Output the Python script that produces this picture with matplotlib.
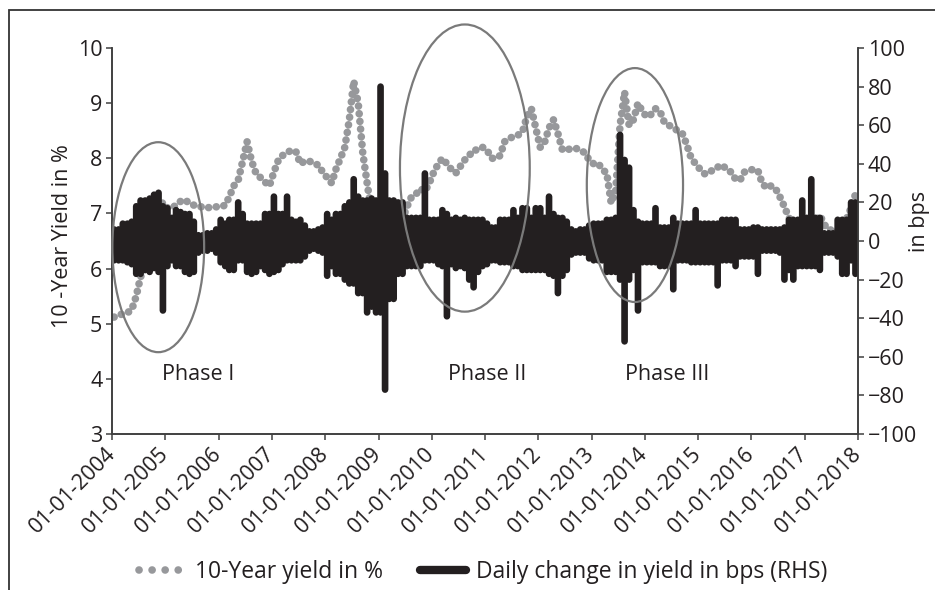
import numpy as np
import pandas as pd
import matplotlib
matplotlib.use("Agg")
import matplotlib.pyplot as plt
from matplotlib.patches import Ellipse, Rectangle
from matplotlib.lines import Line2D

plt.rcParams['font.family'] = ['Open Sans', 'DejaVu Sans']

# 10-year yield in %, one value per month (mid-month), Jan 2004 .. Dec 2017
yield_pct = [
    5.12, 5.15, 5.18, 5.2, 5.25, 5.5, 5.85, 6.0, 6.4, 6.8, 7.1, 7.2,      # 2004
    7.1, 7.1, 7.15, 7.22, 7.25, 7.18, 7.15, 7.12, 7.12, 7.1, 7.12, 7.12,  # 2005
    7.12, 7.15, 7.3, 7.5, 7.6, 7.95, 8.3, 7.95, 7.72, 7.65, 7.57, 7.5,    # 2006
    7.75, 7.97, 8.05, 8.1, 8.15, 8.12, 7.9, 7.95, 7.95, 7.9, 7.88, 7.75,  # 2007
    7.65, 7.55, 7.8, 8.0, 8.2, 8.7, 9.4, 9.0, 8.1, 7.55, 7.0, 5.9,        # 2008
    5.5, 6.0, 6.5, 6.3, 6.5, 6.9, 7.12, 7.3, 7.35, 7.45, 7.4, 7.55,       # 2009
    7.75, 7.9, 8.0, 7.9, 7.8, 7.73, 7.85, 7.97, 8.05, 8.15, 8.15, 8.2,    # 2010
    8.15, 8.0, 8.0, 8.05, 8.3, 8.35, 8.4, 8.42, 8.48, 8.75, 8.9, 8.55,    # 2011
    8.2, 8.3, 8.55, 8.7, 8.45, 8.15, 8.15, 8.18, 8.18, 8.15, 8.1, 7.97,   # 2012
    7.9, 7.91, 7.8, 7.73, 7.19, 7.4, 8.6, 9.2, 8.6, 8.7, 9.0, 8.85,       # 2013
    8.75, 8.8, 8.9, 8.85, 8.65, 8.6, 8.55, 8.5, 8.45, 8.25, 8.0, 7.9,     # 2014
    7.8, 7.72, 7.73, 7.8, 7.84, 7.88, 7.8, 7.75, 7.62, 7.6, 7.75, 7.78,   # 2015
    7.8, 7.78, 7.55, 7.46, 7.5, 7.45, 7.3, 7.12, 6.92, 6.8, 6.5, 6.45,    # 2016
    6.6, 6.85, 6.85, 6.97, 6.8, 6.7, 6.7, 6.7, 6.75, 6.9, 7.1, 7.35,      # 2017
]

# daily change in bps: largest rise and largest fall within each month
chg_high = [
    6, 6, 9, 9, 10, 18, 21, 21, 22, 24, 25, 18,
    17, 12, 16, 15, 14, 14, 10, 3, 3, 4, 4, 6,
    11, 9, 11, 11, 20, 14, 9, 9, 9, 9, 14, 14,
    23, 14, 14, 23, 11, 10, 11, 8, 5, 5, 6, 7,
    14, 11, 14, 14, 18, 20, 32, 23, 21, 21, 22, 21,
    80, 35, 21, 21, 20, 20, 12, 12, 12, 12, 35, 11,
    11, 11, 16, 14, 11, 12, 11, 12, 11, 11, 11, 11,
    9, 7, 7, 11, 11, 11, 16, 12, 17, 17, 12, 17,
    17, 12, 23, 14, 12, 12, 10, 6, 5, 6, 6, 8,
    9, 9, 9, 11, 11, 12, 55, 42, 38, 16, 10, 9,
    9, 9, 17, 7, 7, 7, 12, 9, 9, 9, 9, 16,
    9, 9, 9, 9, 9, 11, 11, 11, 11, 6, 6, 6,
    7, 7, 6, 6, 6, 6, 6, 7, 11, 11, 11, 21,
    12, 32, 12, 12, 4, 4, 4, 11, 11, 11, 20, 20,
]
chg_low = [
    -10, -10, -10, -11, -12, -17, -17, -15, -16, -14, -16, -36,
    -13, -10, -13, -13, -16, -17, -16, -6, -5, -5, -4, -6,
    -11, -13, -15, -15, -10, -10, -16, -17, -16, -13, -15, -17,
    -16, -15, -12, -10, -10, -10, -10, -8, -5, -4, -5, -6,
    -18, -13, -17, -17, -20, -22, -22, -27, -27, -37, -34, -37,
    -37, -77, -30, -30, -17, -17, -13, -13, -13, -13, -10, -10,
    -10, -12, -13, -39, -12, -14, -13, -14, -20, -24, -16, -13,
    -12, -10, -10, -11, -11, -11, -13, -13, -15, -15, -15, -15,
    -15, -15, -17, -18, -27, -18, -15, -7, -6, -6, -6, -9,
    -10, -10, -10, -16, -16, -16, -20, -52, -20, -15, -36, -11,
    -11, -11, -11, -13, -13, -13, -25, -10, -10, -10, -11, -11,
    -11, -11, -11, -11, -23, -10, -10, -10, -13, -8, -8, -8,
    -8, -17, -5, -5, -5, -5, -6, -20, -15, -20, -13, -13,
    -13, -13, -13, -15, -6, -6, -6, -8, -17, -17, -10, -17,
]

phase_names = ['Phase I', 'Phase II', 'Phase III']

months = pd.date_range('2004-01-01', periods=len(yield_pct), freq='MS')
mid_month = months + pd.Timedelta(days=14)

GRAY = '#97989b'
BLACK = '#231f20'
AXC = '#404040'
FS = 15.5

fig = plt.figure(figsize=(9.35, 5.9), dpi=100)
ax = fig.add_axes([0.1198, 0.2644, 0.7978, 0.6542])
ax2 = ax.twinx()

# yield as round dots along the path
ax.plot(mid_month, yield_pct, color=GRAY, lw=5.5, ls=(0, (0.01, 1.0)),
        dash_capstyle='round')
# monthly range of the daily changes: solid band plus rounded strokes
ax2.fill_between(mid_month, chg_low, chg_high, step='mid', color=BLACK,
                 lw=0)
ax2.vlines(mid_month, chg_low, chg_high, color=BLACK, lw=4.8,
           capstyle='round', snap=False)

ax.set_ylim(3, 10)
ax.set_yticks(range(3, 11))
ax2.set_ylim(-100, 100)
ax2.set_yticks(range(-100, 101, 20))
ax.set_xlim(pd.Timestamp('2004-01-01'), pd.Timestamp('2018-01-01'))
years = pd.date_range('2004-01-01', '2018-01-01', freq='YS')
ax.set_xticks(years)
ax.set_xticklabels([d.strftime('%d-%m-%Y') for d in years], rotation=45,
                   ha='right', va='center', rotation_mode='anchor')

for a in (ax, ax2):
    a.spines['top'].set_visible(False)
    for s in a.spines.values():
        s.set_color(AXC)
        s.set_linewidth(1.2)
    a.tick_params(direction='out', length=4, width=1.1, color=AXC,
                  labelsize=FS, labelcolor=BLACK)
ax.tick_params(axis='x', pad=8)
ax.tick_params(axis='y', pad=3)
ax2.tick_params(axis='y', pad=3)

ax.text(-0.067, 0.512, '10 -Year Yield in %', rotation=90, ha='center',
        va='center', fontsize=FS, color=BLACK, transform=ax.transAxes)
ax2.text(1.083, 0.552, 'in bps', rotation=90, ha='center', va='center',
         fontsize=FS, color=BLACK, transform=ax2.transAxes)

# highlighted phases
ellipses = [(0.062, 0.484, 0.123, 0.544),
            (0.473, 0.689, 0.174, 0.744),
            (0.701, 0.645, 0.129, 0.606)]
label_x = [0.115, 0.503, 0.744]
for (cx, cy, w, h), lx, name in zip(ellipses, label_x, phase_names):
    ax2.add_patch(Ellipse((cx, cy), w, h, transform=ax2.transAxes,
                          fill=False, ec='#7a7a7a', lw=1.6, clip_on=False,
                          zorder=5))
    ax2.text(lx, 0.14, name, ha='center', va='baseline', fontsize=FS,
             color=BLACK, transform=ax2.transAxes)

handles = [Line2D([], [], color=GRAY, lw=5.5, ls=(0, (0.01, 1.7)),
                  dash_capstyle='round'),
           Line2D([], [], color=BLACK, lw=6, solid_capstyle='round')]
fig.legend(handles, ['10-Year yield in %', 'Daily change in yield in bps (RHS)'],
           loc='center', bbox_to_anchor=(0.517, 0.031), ncol=2, frameon=False,
           handlelength=2.0, handletextpad=0.45, columnspacing=1.6,
           fontsize=16.5, labelcolor=BLACK)

fig.add_artist(Rectangle((9 / 935, -0.1), 1.2, (580 / 590) + 0.1,
                         transform=fig.transFigure, fill=False,
                         ec='#333333', lw=1.3))

fig.savefig('out.png', dpi=100)
